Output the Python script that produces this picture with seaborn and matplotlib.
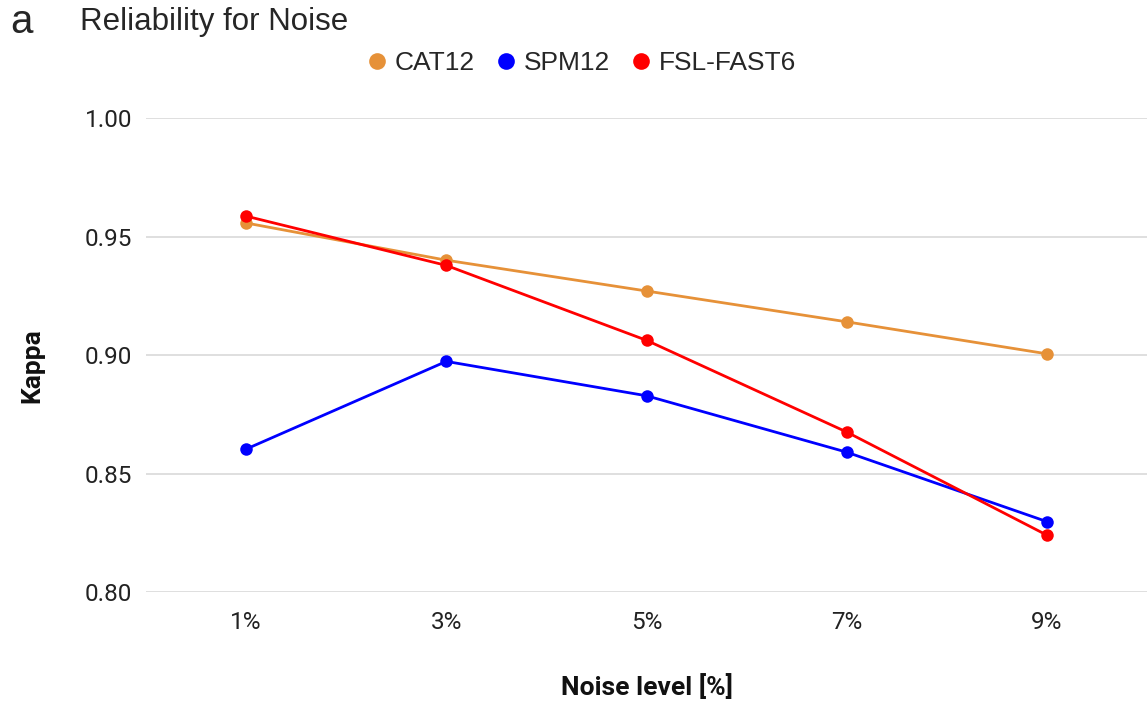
import matplotlib
matplotlib.use("Agg")
import matplotlib.pyplot as plt
from matplotlib.lines import Line2D
import seaborn as sns
import pandas as pd

noise_levels = ["1%", "3%", "5%", "7%", "9%"]
cat12 = [0.9557, 0.9400, 0.9270, 0.9140, 0.9005]
spm12 = [0.8603, 0.8973, 0.8828, 0.8590, 0.8297]
fsl_fast6 = [0.9586, 0.9378, 0.9062, 0.8675, 0.8240]
methods = ["CAT12", "SPM12", "FSL-FAST6"]
colors = ["#E69138", "#0000FF", "#FF0000"]
y_ticks = [0.80, 0.85, 0.90, 0.95, 1.00]

rows = []
for m, vals in zip(methods, [cat12, spm12, fsl_fast6]):
    for n, v in zip(noise_levels, vals):
        rows.append({"noise": n, "kappa": v, "method": m})
df = pd.DataFrame(rows)

sns.set_style("white")
plt.rcParams["font.family"] = ["Roboto", "DejaVu Sans"]

fig = plt.figure(figsize=(11.48, 7.02), dpi=100)
ax = fig.add_axes([146 / 1148, 110 / 702, 1001 / 1148, 474 / 702])

sns.lineplot(data=df, x="noise", y="kappa", hue="method", palette=dict(zip(methods, colors)),
             marker="o", markersize=9, markeredgewidth=0, linewidth=2.0, sort=False,
             legend=False, ax=ax)

ax.set_xlim(-0.5, 4.5)
ax.set_ylim(0.80, 1.00)
ax.set_yticks(y_ticks)
ax.set_yticklabels([f"{t:.2f}" for t in y_ticks])
ax.yaxis.grid(True, color="#d9d9d9", linewidth=1.2)
ax.xaxis.grid(False)
for s in ax.spines.values():
    s.set_visible(False)
ax.tick_params(axis="both", length=0, labelsize=17.5, colors="#222222")
ax.tick_params(axis="x", pad=14)
ax.tick_params(axis="y", pad=10)
ax.set_xlabel("Noise level [%]", fontsize=19, fontweight="bold", color="#111111")
ax.set_ylabel("Kappa", fontsize=19, fontweight="bold", color="#111111")
ax.xaxis.set_label_coords(0.5, (592 - 687) / 474)
ax.yaxis.set_label_coords((32 - 146) / 1001, (592 - 366) / 474)
ax.xaxis.label.set_va("center")
ax.yaxis.label.set_va("center")

fig.text(10 / 1148, 1 - 22 / 702, "a", fontsize=29, va="center", ha="left",
         family=["Liberation Sans", "DejaVu Sans"])
fig.text(80 / 1148, 1 - 22 / 702, "Reliability for Noise", fontsize=22.5, va="center", ha="left",
         family=["Liberation Sans", "DejaVu Sans"])

handles = [Line2D([0], [0], marker="o", color="none", markerfacecolor=c, markeredgewidth=0,
                  markersize=12) for c in colors]
fig.legend(handles, methods, loc="center", bbox_to_anchor=(580 / 1148, 1 - 63 / 702), ncol=3,
           frameon=False, handletextpad=0.15, columnspacing=0.7, handlelength=1.0,
           prop={"family": ["Liberation Sans", "DejaVu Sans"], "size": 19})

fig.savefig("out.png", dpi=100)
